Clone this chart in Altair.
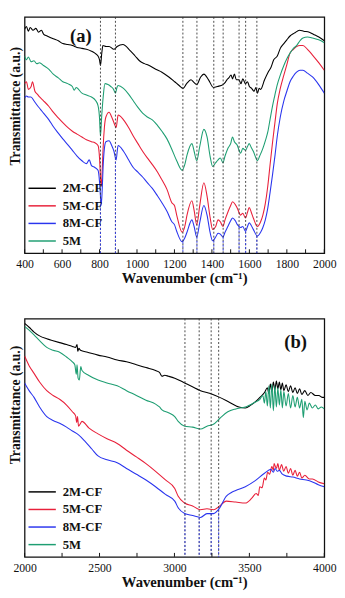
import altair as alt
import pandas as pd

SERIES = ["2M-CF", "5M-CF", "8M-CF", "5M"]
COLORS = ["#000000", "#e8203a", "#2a35ee", "#1e9e72"]

# ---------------- panel (a) : 400-2000 cm-1 ----------------
a_2mcf_wn = [400, 410, 420, 430, 445, 460, 475, 490, 501, 520, 553, 580, 604, 630, 655, 680, 706, 730, 757, 775,
             792, 800, 805, 812, 818, 835, 851, 877, 894, 925, 962, 990, 1013, 1040, 1065, 1100, 1133, 1170, 1201,
             1225, 1246, 1265, 1288, 1305, 1319, 1340, 1357, 1382, 1408, 1430, 1459, 1470, 1480, 1490, 1502, 1510,
             1520, 1530, 1544, 1555, 1565, 1579, 1590, 1600, 1612, 1625, 1635, 1643, 1652, 1660, 1681, 1700, 1715,
             1730, 1749, 1765, 1784, 1800, 1817, 1840, 1868, 1890, 1920, 1950, 1971, 2000]
a_2mcf_t = [235, 238, 233, 237, 234, 236, 232, 234, 230, 228, 225, 223, 220, 219, 218, 216, 215, 214, 212, 210,
            207, 203, 197, 210, 218, 217, 217, 214, 217, 219, 213, 207, 202, 199, 197, 193, 190, 185, 180,
            176, 173, 178, 182, 179, 177, 185, 188, 182, 174, 175, 177, 179, 182, 184, 187, 183,
            188, 182, 182, 178, 183, 178, 180, 175, 173, 170, 174, 168, 173, 172, 182, 190, 195,
            203, 207, 215, 220, 224, 228, 231, 234, 233, 232, 229, 227, 223]

a_5m_wn = [400, 410, 420, 435, 450, 465, 480, 501, 530, 553, 580, 604, 630, 655, 665, 675, 706, 730, 757, 780,
           792, 800, 805, 812, 820, 829, 845, 860, 875, 885, 893, 899, 928, 955, 980, 1005, 1030, 1055, 1082,
           1110, 1133, 1160, 1184, 1212, 1241, 1255, 1267, 1293, 1305, 1319, 1335, 1357, 1374, 1390, 1404, 1420,
           1433, 1445, 1459, 1470, 1485, 1500, 1510, 1520, 1536, 1545, 1553, 1565, 1579, 1590, 1599, 1610, 1621,
           1635, 1643, 1655, 1672, 1685, 1698, 1710, 1724, 1735, 1749, 1765, 1784, 1800, 1817, 1835, 1852, 1870,
           1886, 1910, 1937, 1970, 2000]
a_5m_t = [207, 203, 206, 201, 202, 199, 200, 197, 193, 188, 184, 180, 178, 175, 171, 174, 168, 166, 164, 160,
          155, 142, 123, 145, 165, 178, 177, 175, 172, 168, 174, 176, 173, 167, 160, 153, 147, 143, 140,
          134, 128, 120, 110, 97, 87, 93, 103, 115, 107, 97, 112, 130, 122, 102, 91, 95,
          98, 100, 95, 102, 110, 115, 122, 117, 113, 108, 105, 110, 108, 112, 115, 111, 107,
          100, 97, 102, 110, 118, 127, 140, 155, 165, 177, 187, 197, 204, 210, 215, 218, 223,
          226, 227, 226, 224, 221]

a_5mcf_wn = [400, 410, 420, 435, 442, 455, 468, 480, 501, 530, 553, 580, 604, 630, 655, 680, 706, 730, 757, 775,
             792, 800, 805, 809, 815, 819, 826, 834, 851, 865, 877, 889, 895, 899, 928, 955, 980, 1005, 1030,
             1055, 1082, 1110, 1133, 1160, 1186, 1200, 1212, 1241, 1255, 1267, 1293, 1305, 1319, 1335, 1357,
             1374, 1390, 1404, 1420, 1433, 1445, 1459, 1470, 1485, 1500, 1510, 1525, 1536, 1553, 1565, 1579,
             1590, 1599, 1610, 1621, 1643, 1660, 1672, 1685, 1698, 1710, 1724, 1737, 1749, 1765, 1784, 1800,
             1817, 1835, 1852, 1870, 1886, 1910, 1937, 1970, 2000]
a_5mcf_t = [178, 180, 172, 175, 180, 170, 167, 164, 160, 154, 148, 142, 137, 132, 128, 125, 122, 119, 117, 116,
            113, 100, 80, 70, 90, 110, 132, 143, 148, 143, 137, 132, 140, 145, 140, 132, 123, 115, 107,
            100, 93, 85, 77, 67, 53, 50, 40, 22, 28, 40, 55, 45, 30, 50, 74,
            60, 38, 25, 28, 35, 33, 28, 35, 43, 50, 54, 51, 47, 40, 42, 37,
            43, 48, 43, 37, 28, 33, 40, 52, 70, 92, 117, 138, 157, 173, 187, 198,
            210, 214, 217, 218, 218, 214, 208, 200, 192]

a_8mcf_wn = [400, 410, 420, 434, 450, 468, 485, 501, 530, 553, 580, 604, 630, 655, 680, 706, 730, 745, 757, 775,
             792, 800, 805, 809, 815, 819, 826, 834, 851, 865, 877, 889, 895, 899, 928, 955, 980, 1005, 1030,
             1055, 1082, 1110, 1133, 1160, 1186, 1200, 1212, 1241, 1255, 1267, 1293, 1305, 1319, 1335, 1357,
             1374, 1390, 1404, 1420, 1433, 1445, 1459, 1470, 1485, 1500, 1510, 1525, 1536, 1553, 1565, 1579,
             1590, 1599, 1610, 1621, 1643, 1660, 1672, 1685, 1698, 1710, 1724, 1737, 1749, 1765, 1784, 1800,
             1817, 1835, 1852, 1870, 1886, 1910, 1937, 1970, 2000]
a_8mcf_t = [163, 165, 164, 164, 160, 155, 151, 147, 140, 133, 126, 120, 114, 108, 102, 97, 94, 98, 92, 90,
            87, 75, 60, 50, 70, 90, 110, 117, 118, 113, 107, 98, 108, 113, 107, 98, 90, 85, 80,
            74, 68, 60, 53, 44, 33, 30, 23, 12, 16, 22, 35, 28, 17, 32, 50,
            40, 22, 13, 17, 21, 20, 17, 22, 28, 34, 37, 34, 30, 27, 28, 23,
            28, 32, 29, 25, 18, 22, 27, 35, 47, 63, 83, 103, 123, 143, 160, 170,
            180, 186, 190, 192, 192, 189, 185, 177, 168]

# dotted guide lines, and where each meets the 8M-CF curve (below it the dots look blue)
a_marks = [805, 885, 1245, 1320, 1410, 1460, 1545, 1580, 1640]
a_marks_blue = [55, 100, 12, 17, 13, 17, 28, 23, 18]
a_ticks = list(range(400, 2001, 100))

# ---------------- panel (b) : 2000-4000 cm-1 ----------------
b_2mcf_wn = [2000, 2030, 2063, 2100, 2148, 2190, 2234, 2280, 2319, 2340, 2350, 2355, 2362, 2373, 2420, 2490,
             2550, 2618, 2680, 2746, 2810, 2874, 2900, 2917, 2935, 2960, 3002, 3068, 3120, 3174, 3240, 3302,
             3366, 3430, 3473, 3510, 3537, 3570, 3601, 3620, 3630, 3640, 3650, 3660, 3670, 3680, 3690, 3700,
             3710, 3720, 3730, 3745, 3760, 3775, 3790, 3805, 3820, 3835, 3850, 3870, 3890, 3910, 3940, 3964,
             3985, 4000]
b_2mcf_t = [243, 239, 234, 230, 227, 225, 223, 221, 219, 218, 221, 214, 217, 215, 213, 210,
            208, 205, 203, 200, 197, 194, 192, 188, 189, 188, 186, 181, 177, 173, 170, 166,
            161, 156, 155, 158, 161, 166, 171, 176, 170, 180, 172, 182, 174, 183, 175, 182,
            174, 181, 173, 179, 172, 178, 171, 176, 170, 175, 169, 173, 168, 171, 168, 168,
            166, 166]

b_5m_wn = [2000, 2030, 2063, 2100, 2148, 2190, 2234, 2280, 2319, 2335, 2345, 2350, 2357, 2365, 2375, 2383,
           2426, 2490, 2550, 2618, 2680, 2746, 2810, 2874, 2900, 2917, 2960, 3002, 3025, 3068, 3121, 3174,
           3217, 3260, 3302, 3356, 3409, 3473, 3537, 3570, 3590, 3600, 3610, 3620, 3630, 3640, 3650, 3660,
           3670, 3680, 3690, 3700, 3710, 3720, 3730, 3745, 3760, 3775, 3790, 3805, 3820, 3835, 3850, 3860,
           3870, 3885, 3900, 3920, 3940, 3960, 3980, 4000]
b_5m_t = [240, 236, 231, 225, 218, 215, 213, 208, 203, 200, 190, 200, 186, 184, 198, 194,
          189, 184, 181, 178, 173, 168, 163, 159, 156, 153, 150, 146, 141, 136, 135, 133,
          136, 138, 144, 151, 154, 156, 161, 164, 168, 160, 172, 157, 178, 155, 180, 152,
          178, 156, 176, 158, 174, 155, 172, 157, 170, 155, 168, 156, 166, 155, 164, 145,
          162, 153, 160, 155, 158, 154, 156, 154]

b_5mcf_wn = [2000, 2030, 2063, 2100, 2148, 2190, 2234, 2280, 2319, 2340, 2348, 2353, 2360, 2370, 2383, 2430,
             2490, 2550, 2618, 2680, 2746, 2810, 2874, 2940, 3002, 3025, 3068, 3121, 3174, 3217, 3260, 3302,
             3345, 3409, 3473, 3516, 3545, 3560, 3569, 3585, 3600, 3610, 3622, 3635, 3650, 3660, 3665, 3680,
             3690, 3700, 3715, 3729, 3745, 3760, 3775, 3790, 3805, 3820, 3835, 3850, 3870, 3900, 3921, 3960,
             4000]
b_5mcf_t = [209, 199, 191, 182, 173, 168, 164, 158, 151, 147, 140, 146, 136, 138, 141, 134,
            128, 123, 118, 111, 104, 97, 89, 80, 71, 63, 56, 53, 49, 50, 49, 53,
            58, 57, 56, 61, 66, 64, 73, 72, 82, 80, 88, 86, 94, 90, 97, 92,
            97, 90, 96, 89, 94, 87, 92, 85, 90, 84, 88, 82, 85, 81, 81, 78,
            76]

b_8mcf_wn = [2000, 2030, 2063, 2100, 2148, 2190, 2234, 2280, 2319, 2360, 2405, 2450, 2490, 2550, 2618, 2680,
             2746, 2810, 2874, 2940, 3002, 3025, 3068, 3121, 3174, 3217, 3260, 3302, 3345, 3380, 3409, 3473,
             3537, 3601, 3643, 3660, 3672, 3686, 3700, 3720, 3750, 3790, 3835, 3880, 3921, 3960, 4000]
b_8mcf_t = [181, 173, 166, 156, 146, 142, 139, 135, 131, 127, 120, 112, 105, 101, 98, 92,
            86, 80, 73, 65, 58, 51, 45, 43, 41, 45, 45, 51, 63, 67, 69, 73,
            79, 87, 91, 88, 92, 89, 90, 86, 84, 83, 81, 80, 78, 75, 73]

b_marks = [3070, 3165, 3245, 3295]
b_marks_blue = [45, 41, 45, 50]
b_ticks = list(range(2000, 4001, 250))


def frame(pairs):
    rows = []
    for name, wn, t in pairs:
        for i, (w, v) in enumerate(zip(wn, t)):
            rows.append({"series": name, "wn": w, "t": v, "i": i})
    return pd.DataFrame(rows)


a_df = frame([("2M-CF", a_2mcf_wn, a_2mcf_t), ("5M-CF", a_5mcf_wn, a_5mcf_t),
              ("8M-CF", a_8mcf_wn, a_8mcf_t), ("5M", a_5m_wn, a_5m_t)])
b_df = frame([("2M-CF", b_2mcf_wn, b_2mcf_t), ("5M-CF", b_5mcf_wn, b_5mcf_t),
              ("8M-CF", b_8mcf_wn, b_8mcf_t), ("5M", b_5m_wn, b_5m_t)])

W = 307
SERIF = "Liberation Serif"


def panel(df, marks, marks_blue, xdom, tick_vals, label_step, letter, lx, ly, title_y, H):
    xs = alt.Scale(domain=xdom, nice=False, zero=False)
    ys = alt.Scale(domain=[0, 248], nice=False, zero=False)
    x_axis = alt.Axis(values=tick_vals,
                      labelExpr=f"datum.value % {label_step} == 0 ? datum.label : ''",
                      format="d", ticks=False, domain=False, grid=False,
                      labelPadding=6, labelFont=SERIF, labelFontSize=12, labelColor="#111",
                      labelOverlap=False, labelFlush=False,
                      title="Wavenumber (cm\u207b\u00b9)", titleFont=SERIF, titleFontSize=15,
                      titleFontWeight="bold", titleColor="#111",
                      titleX=W / 2 + 10, titleY=18, titleBaseline="top", titleAlign="center")
    y_axis = alt.Axis(labels=False, ticks=False, domain=False, grid=False,
                      title="Transmittance (a.u.)", titleFont=SERIF, titleFontSize=14,
                      titleFontWeight="bold", titleColor="#111",
                      titleX=-2, titleY=title_y, titleAngle=270, titleBaseline="bottom",
                      titleAlign="center")
    X = alt.X("wn:Q", scale=xs, axis=x_axis)
    Y = alt.Y("t:Q", scale=ys, axis=y_axis)

    lines = alt.Chart(df).mark_line(strokeWidth=1.1, clip=True, interpolate="monotone").encode(
        x=X, y=Y,
        color=alt.Color("series:N", scale=alt.Scale(domain=SERIES, range=COLORS),
                        legend=alt.Legend(orient="none", legendX=11.5, legendY=H - 73, title=None,
                                          symbolType="M-4,0L4,0", symbolSize=49, symbolStrokeWidth=1.5,
                                          symbolFillColor="transparent",
                                          labelFont=SERIF, labelFontSize=13, labelFontWeight="bold",
                                          labelColor="#111", labelOffset=14.5, rowPadding=4, padding=0)),
        order="i:Q",
    )
    mdf = pd.DataFrame({"wn": marks, "t": marks_blue})
    rules = alt.Chart(mdf).mark_rule(
        strokeDash=[2, 2], color="#333", strokeWidth=0.9).encode(
        x=X, y=alt.value(0), y2=alt.value(H),
    )
    rules_low = alt.Chart(mdf).mark_rule(
        strokeDash=[2, 2], color="#2a35ee", strokeWidth=0.9).encode(
        x=X, y=Y, y2=alt.value(H),
    )
    ticks = alt.Chart(pd.DataFrame({"wn": tick_vals})).mark_rule(
        color="#111", strokeWidth=1).encode(
        x=X, y=alt.value(H), y2=alt.value(H - 4),
    )
    text = alt.Chart(pd.DataFrame({"wn": [lx], "t": [ly], "s": [letter]})).mark_text(
        font=SERIF, fontSize=19, fontWeight="bold", color="#111").encode(
        x=X, y=Y, text="s:N",
    )
    return alt.layer(lines, rules, rules_low, ticks, text).properties(width=W, height=H)


pa = panel(a_df, a_marks, a_marks_blue, [400, 2000], a_ticks, 200, "(a)", 700, 228, 91, 242)
pb = panel(b_df, b_marks, b_marks_blue, [2000, 4000], b_ticks, 500, "(b)", 3808, 224, 88, 244)

chart = alt.vconcat(pa, pb, spacing=31).resolve_scale(x="independent", y="independent").resolve_legend(
    color="independent").properties(padding=0).configure_view(stroke="#111", strokeWidth=1.3)

chart.save("out.html", embed_options={"renderer": "svg", "actions": False})
